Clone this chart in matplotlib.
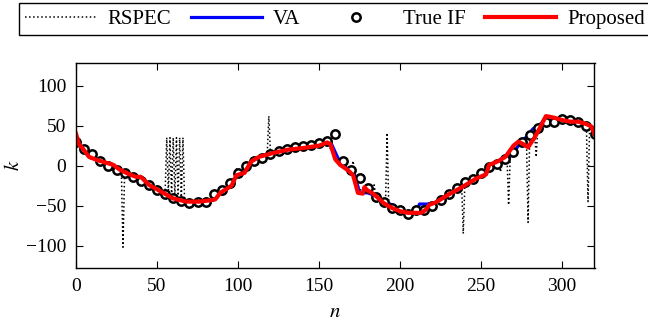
import numpy as np
import matplotlib
matplotlib.use("Agg")
import matplotlib.pyplot as plt

plt.rcParams['font.family'] = ['Liberation Serif', 'DejaVu Serif']
plt.rcParams['mathtext.fontset'] = 'stix'

# true IF, one circle every 5 samples
true_n = np.arange(0, 321, 5)
true_k = [30, 21, 14, 6, 0, -5, -9, -14, -19, -24,
          -30, -35, -40, -44, -47, -45, -45, -36, -30, -22,
          -9, -1, 6, 10, 15, 18, 21, 23, 24, 26,
          28, 31, 40, 6, -6, -16, -28, -39, -46, -53,
          -56, -60, -56, -55, -50, -43, -36, -28, -21, -17,
          -9, -2, 2, 8, 17, 30, 38, 47, 55, 55,
          58, 57, 55, 49, 40]

# proposed estimate
prop_n = [0, 2, 4, 8, 13, 18, 23, 27, 32, 37, 40, 42, 45, 52, 60, 68, 76, 84, 86,
          89, 93, 96, 99, 104, 108, 113, 122, 131, 140, 150, 155, 157, 160, 163,
          168, 171, 174, 177, 178, 180, 184, 190, 195, 200, 205, 213, 216, 218,
          222, 230, 239, 247, 253, 255, 260, 265, 270, 273, 276, 279, 283, 287,
          290, 295, 300, 305, 310, 315, 318, 320]
prop_k = [40, 26, 22, 11, 7, 4, 1, -5, -10, -14, -14, -18, -24, -32, -41, -45, -45, -43, -42,
          -34, -29, -25, -12, -9, 5, 11, 16, 20, 22, 25, 29, 27, 8, 1,
          -6, -12, -34, -35, -27, -31, -36, -47, -53, -57, -59, -59, -55, -49,
          -46, -36, -26, -16, -11, 1, 5, 11, 25, 30, 27, 23, 35, 50,
          62, 60, 57, 55, 55, 52, 49, 40]

# VA estimate
va_n = [0, 3, 8, 13, 18, 23, 27, 32, 37, 41, 43, 48, 55, 60, 65, 70, 80, 85,
        89, 93, 96, 99, 104, 108, 113, 122, 131, 140, 150, 157, 162, 165, 169,
        172, 175, 180, 184, 190, 194, 197, 200, 206, 210, 212, 217, 222, 230,
        239, 247, 253, 256, 260, 265, 269, 274, 278, 282, 286, 290, 295, 300,
        305, 310, 315, 318, 320]
va_k = [36, 23, 12, 7, 4, 1, -6, -11, -14, -15, -21, -27, -35, -40, -43, -45, -45, -43,
        -34, -29, -25, -12, -9, 5, 11, 16, 20, 22, 25, 30, 8, 1, -7,
        -12, -34, -34, -37, -46, -48, -53, -57, -59, -58, -48, -48, -46, -36,
        -26, -16, -11, 0, 4, 9, 13, 28, 36, 46, 51, 58, 60, 57,
        55, 55, 52, 49, 41]

# RSPEC estimate with its outliers
rspec_n = [0, 5, 10, 15, 20, 25, 28, 29, 30, 35, 40, 45, 50, 55,
           56, 57, 58, 59, 60, 61, 62, 63, 64, 65, 66, 67,
           70, 75, 80, 85, 90, 95, 98, 99, 100, 105, 108, 110, 115, 118, 119, 120,
           125, 130, 135, 140, 145, 150, 155, 160, 165, 170, 171, 172, 175, 180,
           183, 184, 185, 190, 191, 192, 193, 195, 200, 205, 210, 215, 220, 225,
           230, 235, 238, 239, 240, 245, 250, 255, 260, 261, 262, 263, 265, 266,
           267, 268, 270, 275, 278, 279, 280, 283, 284, 285, 290, 295, 300, 305,
           310, 315, 316, 317, 320]
rspec_k = [30, 21, 14, 6, 1, -4, -7, -102, -8, -13, -18, -24, -29, -35,
           35, -36, 35, -37, 35, -38, 35, -40, 35, -42, 35, -43,
           -45, -45, -45, -40, -33, -25, -12, -3, -11, -6, 2, 6, 11, 14, 62, 15,
           17, 20, 22, 23, 25, 27, 29, 10, 2, -7, 6, -10, -30, -32,
           -37, -24, -38, -47, -48, 41, -49, -52, -56, -58, -57, -52, -47, -42,
           -35, -28, -23, -85, -22, -16, -10, -1, 3, 4, -8, 6, 8, 10,
           -49, 12, 17, 28, 33, -71, 36, 44, 11, 47, 55, 57, 57, 55,
           54, 50, -45, 49, 42]

fig = plt.figure(figsize=(6.48, 3.27), dpi=100)
ax = fig.add_axes([76/648, 59/327, 518.5/648, 204.7/327])

ax.plot(rspec_n, rspec_k, ':', color='k', lw=1.1, label='RSPEC')
ax.plot(va_n, va_k, '-', color='#0000ff', lw=2.3, label='VA')
ax.plot(true_n, true_k, 'o', mfc='white', mec='k', ms=6, mew=1.8, label='True IF')
ax.plot(prop_n, prop_k, '-', color='#ff0000', lw=3.0, label='Proposed')

ax.set_xlim(0, 320)
ax.set_ylim(-128, 128)
ax.set_xticks([0, 50, 100, 150, 200, 250, 300])
ax.set_yticks([-100, -50, 0, 50, 100])
ax.tick_params(direction='in', length=5, width=0.8, top=True, right=True,
               labelsize=14)
ax.tick_params(axis='x', pad=7)
ax.tick_params(axis='y', pad=7)
for s in ax.spines.values():
    s.set_linewidth(1.0)

ax.set_xlabel('$n$', fontsize=15)
ax.set_ylabel('$k$', fontsize=15)
ax.xaxis.set_label_coords(0.5, -0.17)
ax.yaxis.set_label_coords(-0.10, 0.5)

leg = fig.legend(loc='upper left', bbox_to_anchor=(19/648, 1 - 3/327),
                 ncol=4, fontsize=15, frameon=True, fancybox=False,
                 edgecolor='k', framealpha=1, borderaxespad=0,
                 handlelength=3.4, handletextpad=0.55, columnspacing=0.95,
                 borderpad=0.3)
leg.get_frame().set_linewidth(1.0)

fig.savefig('out.png', dpi=100)
